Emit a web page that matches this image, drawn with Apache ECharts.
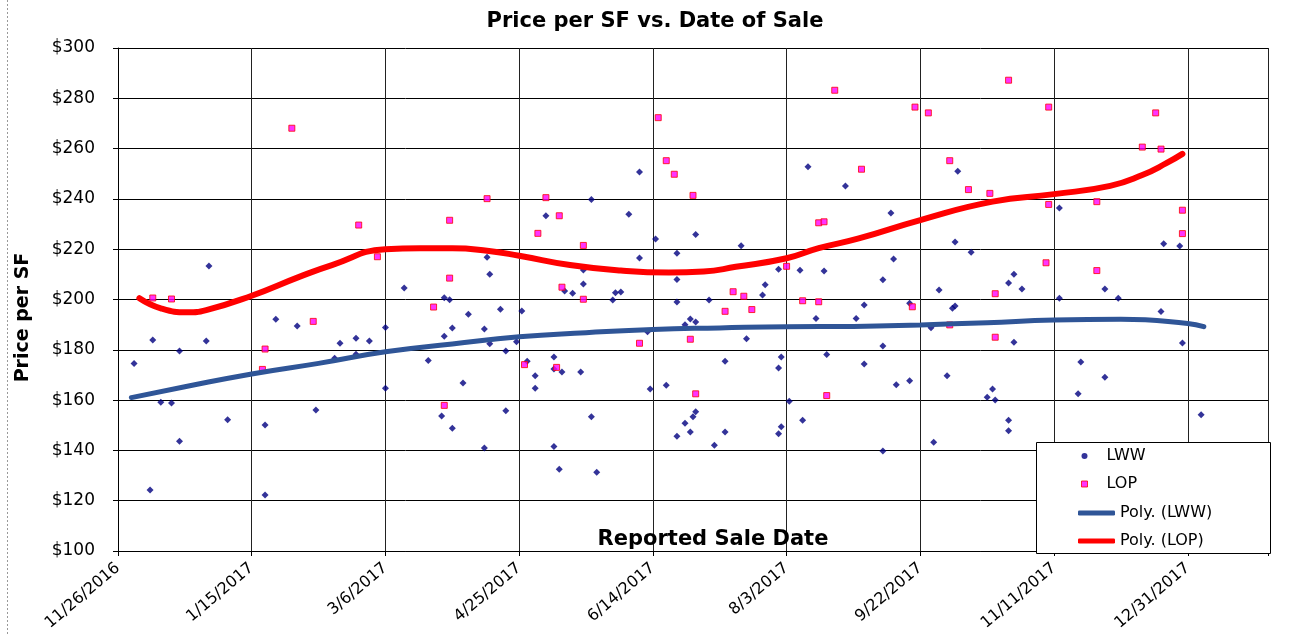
<!DOCTYPE html>
<html>
<head>
<meta charset="utf-8">
<script src="https://cdn.jsdelivr.net/npm/echarts@6/dist/echarts.min.js"></script>
<style>html,body{margin:0;padding:0;background:#fff}#c{width:1310px;height:635px}</style>
</head>
<body>
<div id="c"></div>
<script>
// x values are days since 11/26/2016
const BASE_DATE = Date.UTC(2016, 10, 26);
const xMin = 0, xMax = 430, xInterval = 50;
const yMin = 100, yMax = 300, yInterval = 20;

const lwwDay = [6,12,13,16,20,23,23,33,34,41,55,55,59,67,74,81,83,89,89,94,100,100,107,116,121,122,122,124,125,125,129,131,137,137,138,139,139,143,145,145,149,151,153,156,156,160,163,163,163,165,166,167,170,173,174,174,177,177,179,185,186,188,191,195,195,198,199,201,205,209,209,209,209,212,212,214,214,215,216,216,216,221,223,227,227,233,235,241,242,247,247,247,248,248,251,255,256,258,261,264,265,272,276,279,279,286,286,286,289,290,291,296,296,304,305,307,310,313,312,313,314,319,325,327,328,333,333,333,335,335,338,352,352,359,360,369,369,374,390,391,397,398,405];
const lwwPrice = [174.6,124.3,183.9,159.1,158.8,179.5,143.6,183.5,213.3,152.2,150.1,122.3,192.1,189.5,156.1,176.6,182.6,184.6,178.2,183.5,188.9,164.7,204.6,175.7,153.7,200.7,185.4,199.9,188.7,148.8,166.8,194.1,188.3,141.0,216.8,210.0,182.4,196.1,179.5,155.8,183.2,195.4,175.4,169.7,164.7,233.3,177.1,172.4,141.6,132.5,171.2,203.4,202.5,171.2,211.7,206.2,239.8,153.4,131.3,199.8,202.7,203.0,233.9,250.7,216.5,187.2,164.4,224.1,165.9,218.4,208.0,199.0,145.6,190.0,150.8,192.2,147.3,153.4,225.8,191.1,155.4,199.8,142.0,175.4,147.3,221.4,184.4,201.8,205.9,212.0,172.8,146.6,177.1,149.4,159.5,211.6,152.0,252.8,192.4,211.3,178.1,245.1,192.4,197.8,174.4,207.9,181.5,139.8,234.4,216.1,166.1,198.5,167.7,188.8,143.2,203.8,169.7,222.9,196.5,197.4,251.0,218.8,161.1,164.4,160.0,206.6,152.0,147.8,210.0,183.0,204.2,236.4,200.5,162.5,175.1,204.2,169.1,200.5,195.2,222.2,221.3,182.7,154.2];

const lopDay = [13,20,54,55,65,73,90,97,118,122,124,124,138,152,157,160,164,165,166,174,174,195,202,205,208,214,215,216,227,230,234,237,250,256,262,262,264,265,268,278,297,298,303,311,311,318,326,328,328,333,347,348,348,366,366,383,388,390,398,398];
const lopPrice = [200.6,200.2,172.2,180.3,268.1,191.3,229.6,217.0,197.0,157.9,231.5,208.5,240.1,174.1,226.3,240.5,173.0,233.3,204.9,221.5,200.1,182.6,272.3,255.2,249.8,184.2,241.4,162.5,195.3,203.1,201.3,196.0,213.2,199.5,230.5,199.1,230.9,161.8,283.2,251.8,197.1,276.5,274.2,255.2,189.9,243.7,242.2,202.3,185.0,287.2,214.6,276.5,237.8,238.9,211.5,260.6,274.2,259.8,235.5,226.2];

// polynomial trend lines
const lwwTrendDay = [5,25,50,75,100,125,150,175,200,225,250,275,300,325,350,375,400,406];
const lwwTrendPrice = [161.0,165.3,170.4,174.6,179.2,182.3,185.2,186.8,188.1,188.7,189.2,189.3,189.9,190.8,191.8,192.1,190.5,189.2];
const lopTrendDay = [8,16,26,33,50,68,80,100,113,125,138,150,169,188,206,219,231,250,262,277,300,327,350,371,383,392,398];
const lopTrendPrice = [200.5,196.5,194.9,195.8,201.5,209.1,213.7,220.0,220.4,220.4,219.4,217.4,213.7,211.5,210.7,211.1,213.0,216.4,220.4,224.3,231.6,238.9,241.9,245.2,249.5,254.2,257.9];

const titleText = 'Price per SF vs. Date of Sale';
const xName = 'Reported Sale Date';
const yName = 'Price per SF';

function pairs(a, b) { return a.map((d, i) => [d, b[i]]); }
function fmtDate(v) {
  const d = new Date(BASE_DATE + v * 86400000);
  return (d.getUTCMonth() + 1) + '/' + d.getUTCDate() + '/' + d.getUTCFullYear();
}

const FONT = 'DejaVu Sans';
const chart = echarts.init(document.getElementById('c'), null, {renderer: 'canvas'});
chart.setOption({
  animation: false,
  backgroundColor: '#fff',
  title: {
    text: titleText, left: 'center', top: 6, padding: [5, 5, 5, 47],
    textStyle: {fontFamily: FONT, fontWeight: 'bold', fontSize: 21, color: '#000'}
  },
  grid: {left: 118, top: 48, right: 42, bottom: 84, show: false, containLabel: false, outerBoundsMode: 'none'},
  xAxis: {
    type: 'value', min: xMin, max: xMax, interval: xInterval,
    axisLine: {show: true, onZero: false, lineStyle: {color: '#000', width: 1}},
    axisTick: {show: true, length: 5, lineStyle: {color: '#000'}},
    splitLine: {show: true, lineStyle: {color: '#222', width: 1}},
    axisLabel: {
      rotate: 40, margin: 15, fontFamily: FONT, fontSize: 16, color: '#000', hideOverlap: false,
      formatter: v => (v % xInterval === 0 ? fmtDate(v) : '')
    },
    name: xName, nameLocation: 'middle', nameGap: -22, nameMoveOverlap: false,
    nameTextStyle: {fontFamily: FONT, fontWeight: 'bold', fontSize: 21, color: '#000', padding: [0, 0, 0, 40]}
  },
  yAxis: {
    type: 'value', min: yMin, max: yMax, interval: yInterval,
    axisLine: {show: true, lineStyle: {color: '#000', width: 1}},
    axisTick: {show: true, length: 5, lineStyle: {color: '#000'}},
    splitLine: {show: true, lineStyle: {color: '#000', width: 1}},
    axisLabel: {margin: 23, fontFamily: FONT, fontSize: 17, color: '#000', formatter: '${value}'},
    name: yName, nameLocation: 'middle', nameGap: 85, nameRotate: 90, nameMoveOverlap: false,
    nameTextStyle: {fontFamily: FONT, fontWeight: 'bold', fontSize: 19, color: '#000', padding: [0, 36, 0, 0]}
  },
  legend: [
    {
      orient: 'vertical', left: 1081, top: 448, itemWidth: 34, itemHeight: 6, itemGap: 12,
      padding: 0, symbolKeepAspect: true, selectedMode: false, z: 11,
      textStyle: {fontFamily: FONT, fontSize: 16, color: '#000'},
      data: [
        {name: 'LWW', icon: 'circle', itemStyle: {color: '#000080', borderWidth: 0}},
        {name: 'LOP', icon: 'path://M0,0L10,0L10,10L0,10Z', itemStyle: {color: '#ff00ff', borderColor: '#ff0000', borderWidth: 1}}
      ]
    },
    {
      orient: 'vertical', left: 1078, top: 505, itemWidth: 37, itemHeight: 5, itemGap: 12,
      padding: 0, selectedMode: false, z: 11,
      textStyle: {fontFamily: FONT, fontSize: 16, color: '#000'},
      data: [
        {name: 'Poly. (LWW)', icon: 'roundRect', itemStyle: {color: '#2F5597', borderWidth: 0}},
        {name: 'Poly. (LOP)', icon: 'roundRect', itemStyle: {color: '#ff0000', borderWidth: 0}}
      ]
    }
  ],
  graphic: [
    {type: 'rect', z: 10, shape: {x: 1036.5, y: 442.5, width: 234, height: 111}, style: {fill: '#fff', stroke: '#000', lineWidth: 1}},
    {type: 'line', z: 10, shape: {x1: 7.5, y1: 0, x2: 7.5, y2: 635}, style: {stroke: '#999', lineWidth: 1, lineDash: [2, 2]}}
  ],
  series: [
    {
      name: 'LWW', type: 'scatter', data: pairs(lwwDay, lwwPrice),
      symbol: 'diamond', symbolSize: 7, itemStyle: {color: '#000080'}, z: 2
    },
    {
      name: 'LOP', type: 'scatter', data: pairs(lopDay, lopPrice),
      symbol: 'rect', symbolSize: 6, itemStyle: {color: '#ff00ff', borderColor: '#ff0000', borderWidth: 1}, z: 2
    },
    {
      name: 'Poly. (LWW)', type: 'line', data: pairs(lwwTrendDay, lwwTrendPrice), smooth: true,
      symbol: 'none', lineStyle: {color: '#2F5597', width: 5, cap: 'round'}, itemStyle: {color: '#2F5597'}, z: 3
    },
    {
      name: 'Poly. (LOP)', type: 'line', data: pairs(lopTrendDay, lopTrendPrice), smooth: true,
      symbol: 'none', lineStyle: {color: '#ff0000', width: 6, cap: 'round'}, itemStyle: {color: '#ff0000'}, z: 3
    }
  ]
});
</script>
</body>
</html>
